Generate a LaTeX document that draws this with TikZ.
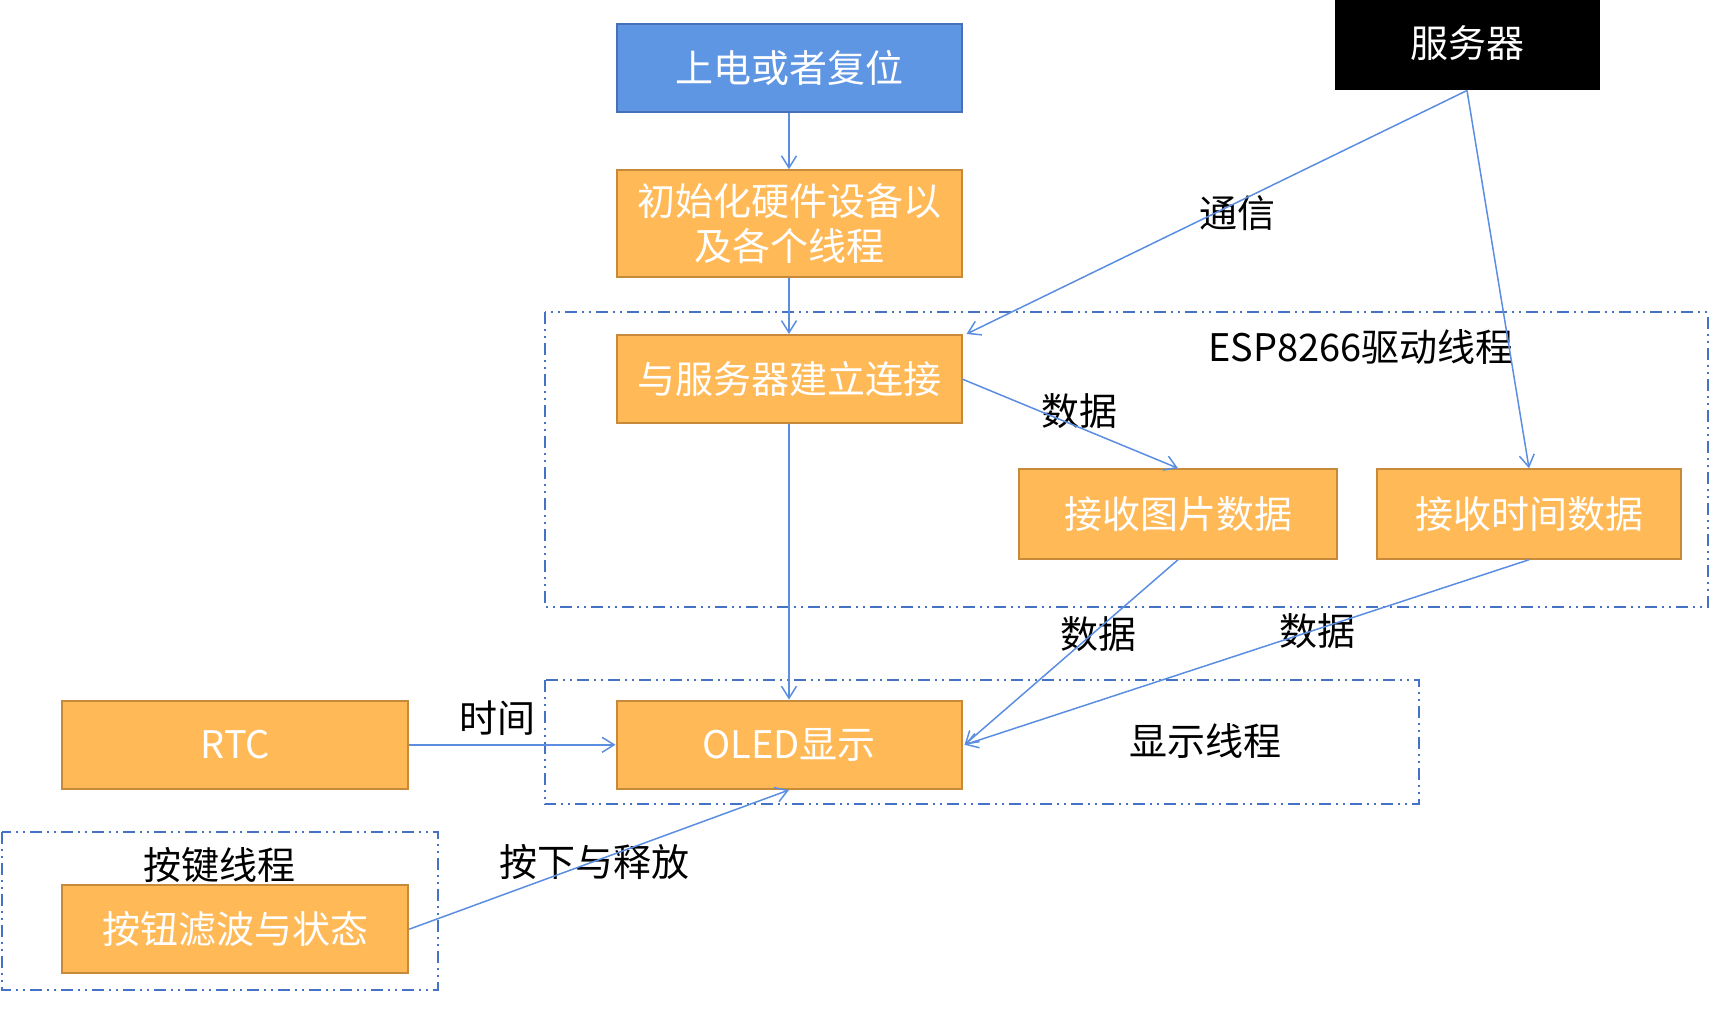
\documentclass[tikz,border=0pt]{standalone}
\usepackage{fontspec}
\setmainfont{Noto Sans CJK SC}
\usetikzlibrary{arrows.meta}
\definecolor{orfill}{HTML}{FFB957}
\definecolor{ordraw}{HTML}{C68A3A}
\definecolor{blfill}{HTML}{5F96E4}
\definecolor{bldraw}{HTML}{4870B8}
\definecolor{arrc}{HTML}{5B8EE0}
\definecolor{contc}{HTML}{4472C4}
\tikzset{
  x=1pt,y=-1pt,
  obox/.style={draw=ordraw,fill=orfill,line width=2pt,text=white,align=center,inner sep=0pt,font=\fontsize{38}{45}\selectfont},
  bbox/.style={obox,draw=bldraw,fill=blfill},
  kbox/.style={obox,draw=black,fill=black},
  lbl/.style={text=black,inner sep=0pt,font=\fontsize{38}{45}\selectfont},
  arr/.style={draw=arrc,line width=1.5pt,-{Straight Barb[length=12pt,width=15pt,line width=1.5pt]}},
  cont/.style={draw=contc,line width=2pt,dash pattern=on 12pt off 5pt on 2pt off 5pt on 2pt off 5pt}
}
\begin{document}
\begin{tikzpicture}
\useasboundingbox (0,0) rectangle (1711,1024);
% containers
\draw[cont] (544.5,312.1) rectangle (1707.7,606.7);
\draw[cont] (544.5,679.8) rectangle (1418.6,804.2);
\draw[cont] (2.2,831.5) rectangle (437.6,989.7);
% boxes
\node[bbox,minimum width=345pt,minimum height=88.4pt] (pwr) at (789,68.2) {上电或者复位};
\node[obox,minimum width=345pt,minimum height=107pt] (init) at (789,223.7) {初始化硬件设备以\\及各个线程};
\node[obox,minimum width=345pt,minimum height=88.4pt] (conn) at (789,379.2) {与服务器建立连接};
\node[obox,minimum width=318pt,minimum height=89.5pt] (pic) at (1178,514) {接收图片数据};
\node[obox,minimum width=304pt,minimum height=89.5pt] (tim) at (1529,514) {接收时间数据};
\node[obox,minimum width=345pt,minimum height=88.4pt] (oled) at (789,744.8) {OLED显示};
\node[obox,minimum width=346pt,minimum height=88.4pt] (rtc) at (235.2,744.8) {RTC};
\node[obox,minimum width=346pt,minimum height=88.4pt] (btn) at (235.2,929.2) {按钮滤波与状态};
\node[kbox,minimum width=263pt,minimum height=92pt] (srv) at (1467,43.5) {服务器};
% labels
\node[lbl] (l1) at (1237.4,212.8) {通信};
\node[lbl] (l2) at (1361,347) {ESP8266驱动线程};
\node[lbl] (l3) at (1079.2,411.4) {数据};
\node[lbl] (l4) at (1098.9,634) {数据};
\node[lbl] (l5) at (1317,630.7) {数据};
\node[lbl] (l6) at (497.6,718) {时间};
\node[lbl] (l7) at (1205.8,741) {显示线程};
\node[lbl] (l8) at (219.3,865.3) {按键线程};
\node[lbl] (l9) at (594.7,862) {按下与释放};
% connectors
\draw[arr] (pwr.south) -- (init.north);
\draw[arr] (init.south) -- (conn.north);
\draw[arr] (srv.south) -- ([xshift=4pt]conn.north east);
\draw[arr] (srv.south) -- (tim.north);
\draw[arr] (conn.east) -- (pic.north);
\draw[arr] (conn.south) -- (oled.north);
\draw[arr] (pic.south) -- ([xshift=2pt]oled.east);
\draw[arr] (tim.south) -- ([xshift=2pt]oled.east);
\draw[arr] (rtc.east) -- (oled.west);
\draw[arr] (btn.east) -- (oled.south);
\end{tikzpicture}
\end{document}
